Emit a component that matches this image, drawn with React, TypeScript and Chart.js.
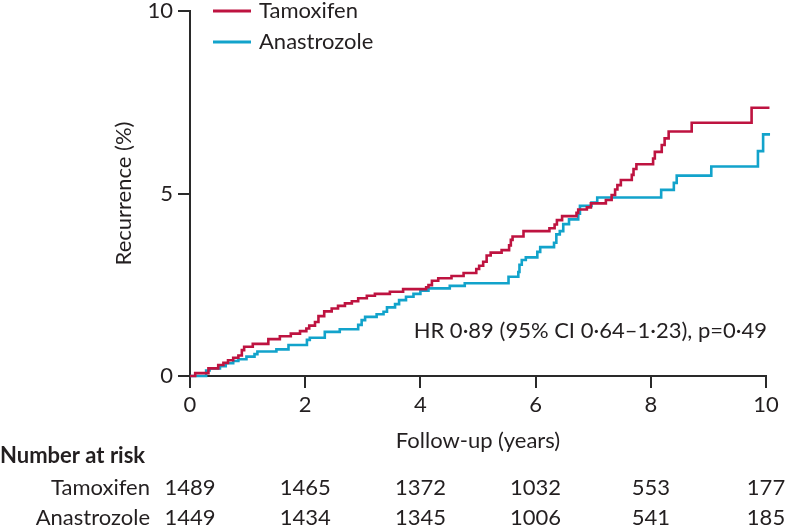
import React, { useEffect, useRef } from 'react';
import { Chart, registerables } from 'chart.js';

Chart.register(...registerables);

// ---- Data ----
const tamoxifenTimes = [0, 0.09, 0.32, 0.49, 0.58, 0.66, 0.75, 0.84, 0.9, 0.94, 1.09, 1.36, 1.56, 1.75, 1.91, 2.02, 2.07, 2.17, 2.23, 2.33, 2.46, 2.57, 2.69, 2.81, 2.92, 3.07, 3.21, 3.47, 3.7, 4.1, 4.14, 4.2, 4.31, 4.54, 4.75, 4.97, 5.02, 5.09, 5.15, 5.22, 5.41, 5.54, 5.57, 5.6, 5.79, 6.24, 6.33, 6.37, 6.46, 6.71, 6.74, 6.89, 6.96, 7.22, 7.32, 7.38, 7.42, 7.48, 7.67, 7.7, 7.75, 8.04, 8.07, 8.19, 8.24, 8.31, 8.71, 9.75, 10.06];
const tamoxifenRecurrence = [0, 0.08, 0.21, 0.3, 0.36, 0.43, 0.5, 0.56, 0.71, 0.8, 0.88, 1.01, 1.09, 1.16, 1.23, 1.3, 1.38, 1.48, 1.64, 1.77, 1.85, 1.92, 1.99, 2.05, 2.13, 2.2, 2.25, 2.31, 2.38, 2.43, 2.49, 2.61, 2.68, 2.74, 2.82, 2.93, 3.02, 3.13, 3.3, 3.38, 3.45, 3.58, 3.73, 3.82, 3.97, 4.05, 4.15, 4.27, 4.38, 4.47, 4.56, 4.62, 4.73, 4.82, 4.96, 5.11, 5.23, 5.37, 5.51, 5.67, 5.8, 5.96, 6.14, 6.33, 6.51, 6.7, 6.94, 7.35, 7.35];

const anastrozoleTimes = [0, 0.28, 0.34, 0.52, 0.62, 0.75, 0.84, 0.98, 1.12, 1.17, 1.5, 1.71, 2.03, 2.08, 2.34, 2.6, 2.92, 2.98, 3.04, 3.24, 3.36, 3.42, 3.56, 3.63, 3.75, 3.88, 4.0, 4.14, 4.51, 4.77, 5.53, 5.7, 5.72, 5.76, 5.83, 6.03, 6.08, 6.32, 6.36, 6.42, 6.48, 6.58, 6.74, 6.77, 6.97, 7.07, 8.18, 8.4, 8.45, 9.05, 9.86, 9.95, 10.07];
const anastrozoleRecurrence = [0, 0.15, 0.21, 0.27, 0.35, 0.41, 0.46, 0.53, 0.6, 0.67, 0.73, 0.85, 0.99, 1.05, 1.21, 1.28, 1.4, 1.53, 1.62, 1.69, 1.76, 1.88, 1.97, 2.08, 2.17, 2.25, 2.34, 2.4, 2.47, 2.54, 2.72, 2.85, 3.05, 3.18, 3.25, 3.4, 3.53, 3.65, 3.88, 3.97, 4.16, 4.29, 4.45, 4.66, 4.75, 4.89, 5.1, 5.29, 5.49, 5.74, 6.16, 6.62, 6.62];

const riskTimes = [0, 2, 4, 6, 8, 10];
const tamoxifenAtRisk = [1489, 1465, 1372, 1032, 553, 177];
const anastrozoleAtRisk = [1449, 1434, 1345, 1006, 541, 185];

const seriesNames = ['Tamoxifen', 'Anastrozole'];
const seriesColors = ['#be1340', '#12a3cb'];
const hrText = 'HR 0·89 (95% CI 0·64–1·23), p=0·49';
const xTitle = 'Follow-up (years)';
const yTitle = 'Recurrence (%)';
const riskTitle = 'Number at risk';

const FONT = "Lato, 'DejaVu Sans', sans-serif";
const TEXT = '#231f20';

const overlayPlugin = {
  id: 'overlay',
  afterDraw(chart: any) {
    const ctx = chart.ctx;
    const xs = chart.scales.x;
    const area = chart.chartArea;
    ctx.save();
    ctx.fillStyle = TEXT;
    ctx.font = `22px ${FONT}`;

    // legend
    const legendY = [11, 42];
    seriesNames.forEach((name, i) => {
      ctx.strokeStyle = seriesColors[i];
      ctx.lineWidth = 3;
      ctx.beginPath();
      ctx.moveTo(213, legendY[i]);
      ctx.lineTo(251, legendY[i]);
      ctx.stroke();
      ctx.textAlign = 'left';
      ctx.textBaseline = 'alphabetic';
      ctx.fillText(name, 259, legendY[i] + 7);
    });

    // HR annotation
    ctx.textAlign = 'right';
    ctx.fillText(hrText, 767, 338);

    // x title
    ctx.textAlign = 'center';
    ctx.fillText(xTitle, (area.left + area.right) / 2, 448);

    // y title
    ctx.save();
    ctx.translate(131, (area.top + area.bottom) / 2);
    ctx.rotate(-Math.PI / 2);
    ctx.textAlign = 'center';
    ctx.fillText(yTitle, 0, 0);
    ctx.restore();

    // risk table
    ctx.font = `bold 22px ${FONT}`;
    ctx.textAlign = 'left';
    ctx.fillText(riskTitle, 0, 463);
    ctx.font = `22px ${FONT}`;
    ctx.textAlign = 'right';
    ctx.fillText(seriesNames[0], 150, 495);
    ctx.fillText(seriesNames[1], 150, 525);
    ctx.textAlign = 'center';
    riskTimes.forEach((t, i) => {
      const px = xs.getPixelForValue(t);
      ctx.fillText(String(tamoxifenAtRisk[i]), px, 495);
      ctx.fillText(String(anastrozoleAtRisk[i]), px, 525);
    });
    ctx.restore();
  },
};

export default function App() {
  const ref = useRef<HTMLCanvasElement | null>(null);
  useEffect(() => {
    if (!ref.current) return;
    const mk = (xsArr: number[], ysArr: number[]) => xsArr.map((x, i) => ({ x, y: ysArr[i] }));
    const chart = new Chart(ref.current, {
      type: 'line',
      data: {
        datasets: [
          {
            label: seriesNames[0],
            data: mk(tamoxifenTimes, tamoxifenRecurrence),
            borderColor: seriesColors[0],
            borderWidth: 2.6,
            pointRadius: 0,
            stepped: 'before',
            fill: false,
            clip: false as any,
          },
          {
            label: seriesNames[1],
            data: mk(anastrozoleTimes, anastrozoleRecurrence),
            borderColor: seriesColors[1],
            borderWidth: 2.6,
            pointRadius: 0,
            stepped: 'before',
            fill: false,
            clip: false as any,
          },
        ],
      },
      options: {
        animation: false,
        responsive: false,
        devicePixelRatio: 1,
        layout: { padding: { top: 11, right: 21, left: 0, bottom: 0 } },
        plugins: { legend: { display: false }, tooltip: { enabled: false } },
        scales: {
          x: {
            type: 'linear',
            min: 0,
            max: 10,
            afterFit: (s: any) => { s.height = 152; },
            ticks: { stepSize: 2, color: TEXT, font: { family: FONT, size: 22 }, padding: 4, maxRotation: 0 },
            grid: { drawOnChartArea: false, drawTicks: true, tickLength: 12, color: '#2a2a2a', lineWidth: 2 },
            border: { display: true, color: '#2a2a2a', width: 2 },
          },
          y: {
            type: 'linear',
            min: 0,
            max: 10,
            afterFit: (s: any) => { s.width = 190; s.paddingTop = 0; s.paddingBottom = 0; },
            ticks: { stepSize: 5, color: TEXT, font: { family: FONT, size: 22, lineHeight: 0.9 }, padding: 5 },
            grid: { drawOnChartArea: false, drawTicks: true, tickLength: 12, color: '#2a2a2a', lineWidth: 2 },
            border: { display: true, color: '#2a2a2a', width: 2 },
          },
        },
      },
      plugins: [overlayPlugin],
    });
    return () => chart.destroy();
  }, []);
  return (
    <div style={{ position: 'absolute', left: 0, top: 0, width: 787, height: 528, background: '#fff' }}>
      <canvas ref={ref} width={787} height={528} style={{ width: 787, height: 528, display: 'block' }} />
    </div>
  );
}
